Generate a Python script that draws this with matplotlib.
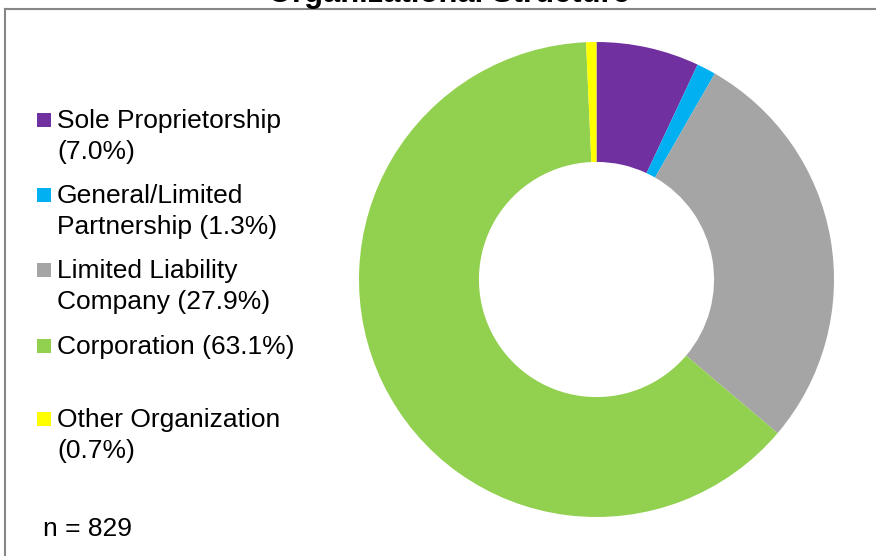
import matplotlib
matplotlib.use("Agg")
import matplotlib.pyplot as plt
from matplotlib.lines import Line2D
from matplotlib.patches import Rectangle

W, H = 876, 556

categories = ["Sole Proprietorship", "General/Limited Partnership", "Limited Liability Company",
              "Corporation", "Other Organization"]
shares = [7.0, 1.3, 27.9, 63.1, 0.7]
colors = ["#7030A0", "#00B0F0", "#A5A5A5", "#92D050", "#FFFF00"]
legend_lines = [
    ["Sole Proprietorship", "(7.0%)"],
    ["General/Limited", "Partnership (1.3%)"],
    ["Limited Liability", "Company (27.9%)"],
    ["Corporation (63.1%)"],
    ["Other Organization", "(0.7%)"],
]
legend_baselines = [128, 203, 278, 354, 427]
n_label = "n = 829"
title = "Organizational Structure"

plt.rcParams["font.family"] = ["Liberation Sans", "DejaVu Sans"]


def fx(x):
    return x / W


def fy(y):
    return 1 - y / H


fig = plt.figure(figsize=(W / 100, H / 100), dpi=100)

# donut
cx, cy, r = 596.5, 279.5, 237.5
ax = fig.add_axes([fx(cx - r), fy(cy + r), 2 * r / W, 2 * r / H])
ax.pie(shares, colors=colors, startangle=90, counterclock=False, radius=1.0,
       wedgeprops=dict(width=0.505, linewidth=0))
ax.set_xlim(-1, 1)
ax.set_ylim(-1, 1)
ax.set_aspect("auto")
ax.axis("off")

# chart frame (top and left edges visible)
fig.add_artist(Line2D([fx(5), fx(W + 5)], [fy(9), fy(9)], color="#868686", lw=1.5))
fig.add_artist(Line2D([fx(5), fx(5)], [fy(9), fy(H + 5)], color="#868686", lw=1.5))

fig.text(fx(448.5), fy(2), title, ha="center", va="baseline", fontsize=22.3,
         fontweight="bold")

# legend
line_gap = 31
for lines, col, base in zip(legend_lines, colors, legend_baselines):
    fig.add_artist(Rectangle((fx(37), fy(base - 1)), 14 / W, 14 / H, facecolor=col,
                             edgecolor="none", transform=fig.transFigure))
    for i, t in enumerate(lines):
        fig.text(fx(57), fy(base + i * line_gap), t, ha="left", va="baseline", fontsize=19)

fig.text(fx(43), fy(536), n_label, ha="left", va="baseline", fontsize=19)

fig.savefig("out.png", dpi=100)
